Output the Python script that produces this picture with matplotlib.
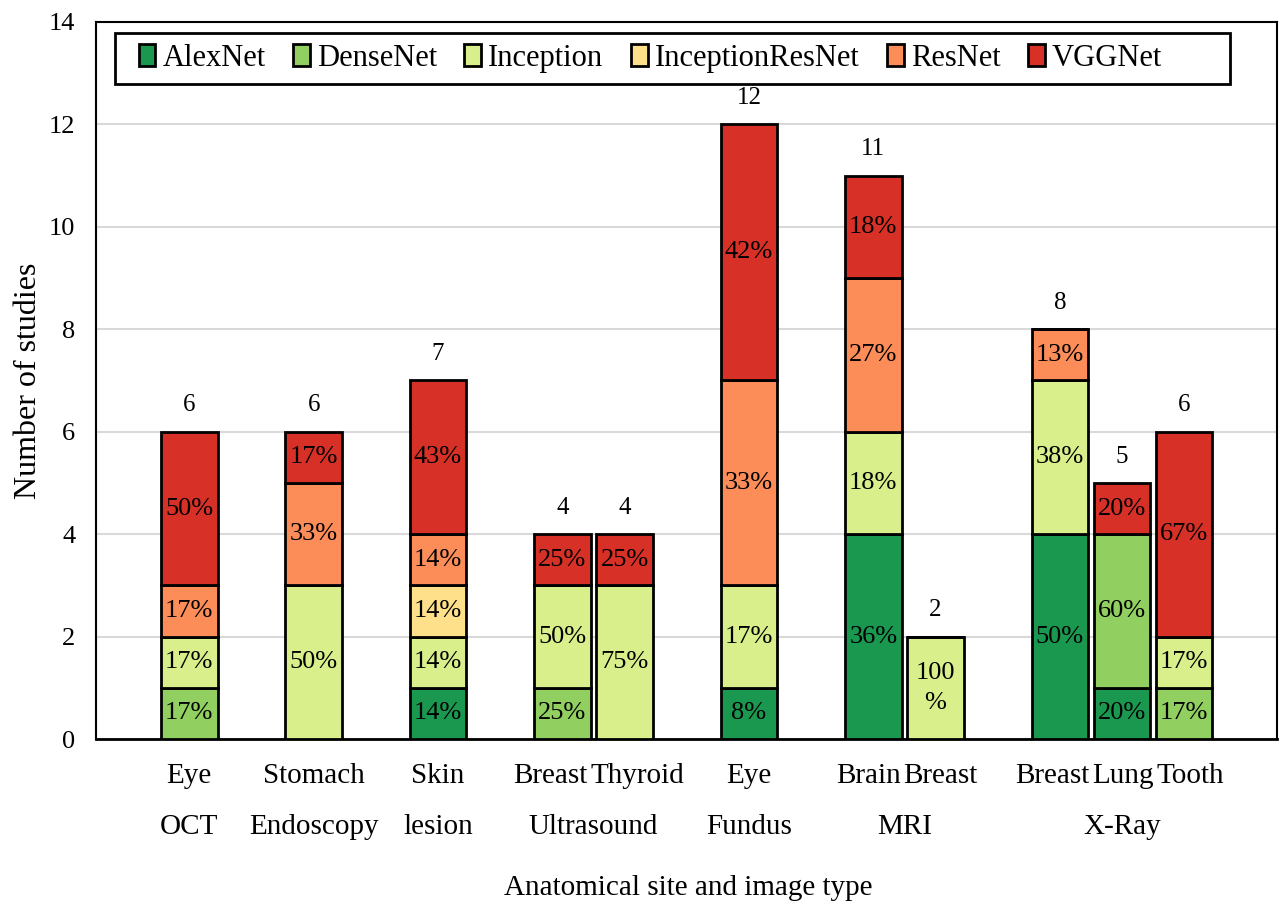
import matplotlib
matplotlib.use("Agg")
import matplotlib.pyplot as plt
from matplotlib.patches import Patch, Rectangle
import numpy as np

plt.rcParams['font.family'] = ['Liberation Serif', 'DejaVu Serif']

# image types (second label row) and sites (first label row)
groups = ['OCT', 'Endoscopy', 'lesion', 'Ultrasound', 'Fundus', 'MRI', 'X-Ray']
sites = [['Eye'], ['Stomach'], ['Skin'], ['Breast', 'Thyroid'], ['Eye'],
         ['Brain', 'Breast'], ['Breast', 'Lung', 'Tooth']]

models = ['AlexNet', 'DenseNet', 'Inception', 'InceptionResNet', 'ResNet', 'VGGNet']
colors = ['#1a9850', '#91cf60', '#d9ef8b', '#fee08b', '#fc8d59', '#d73027']

# number of studies per bar (order: Eye OCT ... Tooth X-Ray)
alexnet         = [0, 0, 1, 0, 0, 1, 4, 0, 4, 1, 0]
densenet        = [1, 0, 0, 1, 0, 0, 0, 0, 0, 3, 1]
inception       = [1, 3, 1, 2, 3, 2, 2, 2, 3, 0, 1]
inceptionresnet = [0, 0, 1, 0, 0, 0, 0, 0, 0, 0, 0]
resnet          = [1, 2, 1, 0, 0, 4, 3, 0, 1, 0, 0]
vggnet          = [3, 1, 3, 1, 1, 5, 2, 0, 0, 1, 4]

series = [alexnet, densenet, inception, inceptionresnet, resnet, vggnet]

# bar positions: one empty slot between groups
xpos, group_centers, group_idx = [], [], []
slot = 0
for g in sites:
    start = slot
    idx = []
    for _ in g:
        idx.append(len(xpos))
        xpos.append(slot)
        slot += 1
    group_idx.append(idx)
    group_centers.append((start + slot - 1) / 2)
    slot += 1
xpos = np.array(xpos, dtype=float)
site_labels = [s for g in sites for s in g]

data = np.array(series, dtype=float)
totals = data.sum(axis=0)

fig = plt.figure(figsize=(12.8, 9.08), dpi=100)
ax = fig.add_axes([0.075, 0.186, 0.923, 0.79])

width = 0.91
bottom = np.zeros(len(xpos))
for vals, col, name in zip(data, colors, models):
    ax.bar(xpos, vals, width, bottom=bottom, color=col, edgecolor='black',
           linewidth=2, label=name, zorder=3)
    for x, v, b, t in zip(xpos, vals, bottom, totals):
        if v > 0:
            pct = int(v / t * 100 + 0.5)
            txt = '100\n%' if pct == 100 else f'{pct}%'
            ax.text(x, b + v / 2, txt, ha='center', va='center',
                    fontsize=19, zorder=4, linespacing=1.45)
    bottom += vals

for x, t in zip(xpos, totals):
    ax.text(x, t + 0.3, f'{int(t)}', ha='center', va='bottom', fontsize=18)

ax.set_xlim(-1.5, 17.5)
ax.set_ylim(0, 14)
ax.set_yticks(np.arange(0, 15, 2))
ax.tick_params(axis='y', labelsize=19, length=0, pad=15)
ax.set_xticks([])
ax.yaxis.grid(True, color='#d9d9d9', linewidth=1.5, zorder=0)
for sp in ax.spines.values():
    sp.set_linewidth(1.5)
ax.spines['bottom'].set_linewidth(2)

trans = ax.get_xaxis_transform()
site_texts = []
for x, lab in zip(xpos, site_labels):
    site_texts.append(ax.text(x, -0.052, lab, transform=trans, ha='center',
                              va='center', fontsize=21))
for c, lab in zip(group_centers, groups):
    ax.text(c, -0.123, lab, transform=trans, ha='center', va='center', fontsize=21)

# push apart crowded site labels inside a group
fig.canvas.draw()
r = fig.canvas.get_renderer()
px_per_unit = ax.transData.transform((1, 0))[0] - ax.transData.transform((0, 0))[0]
gap = 3 / px_per_unit
for idx in group_idx:
    if len(idx) < 2:
        continue
    pos = [xpos[i] for i in idx]
    wid = [site_texts[i].get_window_extent(r).width / px_per_unit for i in idx]
    for _ in range(30):
        for k in range(1, len(idx)):
            over = (pos[k - 1] + wid[k - 1] / 2 + gap) - (pos[k] - wid[k] / 2)
            if over > 0:
                pos[k - 1] -= over / 2
                pos[k] += over / 2
    for i, p in zip(idx, pos):
        site_texts[i].set_x(p)

ax.set_ylabel('Number of studies', fontsize=23, labelpad=4)
fig.text(0.5375, 0.022, 'Anatomical site and image type', ha='center',
         va='center', fontsize=21)

handles = [Patch(facecolor=c, edgecolor='black', linewidth=2) for c in colors]
leg = ax.legend(handles, models, loc='center left', bbox_to_anchor=(0.036, 0.949),
                ncol=6, fontsize=22, frameon=False,
                handlelength=0.55, handleheight=0.75, handletextpad=0.23,
                columnspacing=0.9, borderpad=0, borderaxespad=0)
# Excel-style legend box with extra room on the right
ax.add_patch(Rectangle((0.016, 0.9135), 0.944, 0.071, transform=ax.transAxes,
                       facecolor='white', edgecolor='black', linewidth=2,
                       zorder=5))
leg.set_zorder(6)

fig.savefig('out.png', dpi=100)
